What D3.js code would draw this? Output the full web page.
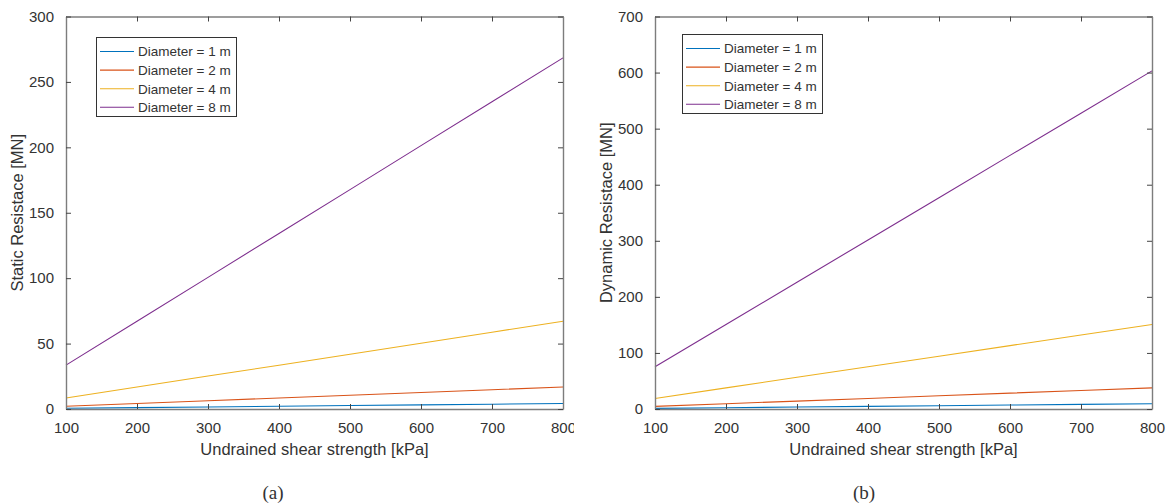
<!DOCTYPE html>
<html>
<head>
<meta charset="utf-8">
<script src="https://cdn.jsdelivr.net/npm/d3@7"></script>
<style>
  html, body { margin: 0; padding: 0; background: #fff; }
  svg { display: block; }
  text { font-family: "Liberation Sans", Arial, sans-serif; fill: #333; }
</style>
</head>
<body>
<svg id="chart" width="1173" height="503"></svg>
<script>
// Undrained shear strength [kPa]
const shearStrength = [100, 200, 300, 400, 500, 600, 700, 800];
const diameters = ["Diameter = 1 m", "Diameter = 2 m", "Diameter = 4 m", "Diameter = 8 m"];
const seriesColors = ["#0072BD", "#D95319", "#EDB120", "#7E2F8E"];

// Static resistance [MN] per pile diameter
const static1m = [0.52, 1.05, 1.57, 2.10, 2.62, 3.15, 3.67, 4.19];
const static2m = [2.10, 4.19, 6.29, 8.39, 10.5, 12.6, 14.7, 16.8];
const static4m = [8.39, 16.8, 25.2, 33.5, 41.9, 50.3, 58.7, 67.1];
const static8m = [33.55, 67.1, 100.6, 134.2, 167.7, 201.3, 234.8, 268.4];

// Dynamic resistance [MN] per pile diameter
const dynamic1m = [1.18, 2.36, 3.53, 4.71, 5.89, 7.07, 8.24, 9.42];
const dynamic2m = [4.71, 9.42, 14.1, 18.8, 23.6, 28.3, 33.0, 37.7];
const dynamic4m = [18.8, 37.7, 56.5, 75.4, 94.2, 113.1, 131.9, 150.8];
const dynamic8m = [75.4, 150.8, 226.1, 301.5, 376.9, 452.3, 527.6, 603.0];

const xTicks = [100, 200, 300, 400, 500, 600, 700, 800];
const staticTicks = [0, 50, 100, 150, 200, 250, 300];
const dynamicTicks = [0, 100, 200, 300, 400, 500, 600, 700];

const svg = d3.select("#chart");

function drawPanel(opt) {
  const g = svg.append("g");
  if (opt.clip) {
    const id = "clip-" + opt.caption.replace(/\W/g, "");
    svg.append("clipPath").attr("id", id)
      .append("rect").attr("x", 0).attr("y", 0).attr("width", opt.clip).attr("height", 503);
    g.attr("clip-path", `url(#${id})`);
  }
  const x = d3.scaleLinear().domain([100, 800]).range([opt.left, opt.right]);
  const y = d3.scaleLinear().domain([0, opt.yMax]).range([opt.bottom, opt.top]);

  // data lines
  const line = d3.line().x((d, i) => x(shearStrength[i])).y(d => y(d));
  opt.series.forEach((s, i) => {
    g.append("path").datum(s)
      .attr("fill", "none").attr("stroke", seriesColors[i])
      .attr("stroke-width", 1.1).attr("d", line);
  });

  // axes with inward ticks on all four sides
  const tickLen = 5;
  const axisColor = "#7d7d7d";
  const styleAxis = sel => {
    sel.select(".domain").attr("stroke", axisColor).attr("stroke-width", 1.4);
    sel.selectAll(".tick line").attr("stroke", "#444").attr("stroke-width", 1);
  };
  const bottomAx = g.append("g").attr("transform", `translate(0,${opt.bottom})`)
    .call(d3.axisBottom(x).tickValues(xTicks).tickSizeInner(-tickLen).tickSizeOuter(0).tickPadding(13))
    .call(styleAxis);
  bottomAx.selectAll(".tick text").attr("font-size", 15).attr("fill", "#333")
    .attr("font-family", "Liberation Sans, Arial, sans-serif");
  const topAx = g.append("g").attr("transform", `translate(0,${opt.top})`)
    .call(d3.axisTop(x).tickValues(xTicks).tickSizeInner(-tickLen).tickSizeOuter(0).tickFormat(""))
    .call(styleAxis);
  const leftAx = g.append("g").attr("transform", `translate(${opt.left},0)`)
    .call(d3.axisLeft(y).tickValues(opt.yTicks).tickSizeInner(-tickLen).tickSizeOuter(0).tickPadding(12))
    .call(styleAxis);
  leftAx.selectAll(".tick text").attr("font-size", 15).attr("fill", "#333")
    .attr("font-family", "Liberation Sans, Arial, sans-serif");
  g.append("g").attr("transform", `translate(${opt.right},0)`)
    .call(d3.axisRight(y).tickValues(opt.yTicks).tickSizeInner(-tickLen).tickSizeOuter(0).tickFormat(""))
    .call(styleAxis);

  // axis titles
  g.append("text").attr("x", (opt.left + opt.right) / 2).attr("y", 455)
    .attr("text-anchor", "middle").attr("font-size", 16.5).text("Undrained shear strength [kPa]");
  g.append("text")
    .attr("transform", `translate(${opt.yLabelX},${(opt.top + opt.bottom) / 2}) rotate(-90)`)
    .attr("text-anchor", "middle").attr("font-size", 16.5).text(opt.yLabel);

  // legend
  const lg = g.append("g").attr("transform", `translate(${opt.legendX},${opt.legendY})`);
  lg.append("rect").attr("x", 0.5).attr("y", 0.5).attr("width", 140).attr("height", 79)
    .attr("fill", "#fff").attr("stroke", "#333").attr("stroke-width", 1);
  diameters.forEach((name, i) => {
    const cy = 14.5 + i * 18.6;
    lg.append("line").attr("x1", 4).attr("x2", 38).attr("y1", cy).attr("y2", cy)
      .attr("stroke", seriesColors[i]).attr("stroke-width", 1.1);
    lg.append("text").attr("x", 42).attr("y", cy).attr("dy", "0.36em")
      .attr("font-size", 13.5).attr("fill", "#222").text(name);
  });

  // panel caption
  svg.append("text").attr("x", opt.captionX).attr("y", 499)
    .attr("text-anchor", "middle").attr("font-size", 19)
    .style("font-family", "'Liberation Serif', 'DejaVu Serif', serif").attr("fill", "#222")
    .text(opt.caption);
}

drawPanel({
  left: 66, right: 563, top: 16.5, bottom: 409, yMax: 300, yTicks: staticTicks,
  series: [static1m, static2m, static4m, static8m],
  yLabel: "Static Resistace [MN]", yLabelX: 23,
  legendX: 96, legendY: 37, caption: "(a)", captionX: 273, clip: 574
});

drawPanel({
  left: 655, right: 1152, top: 16.5, bottom: 409, yMax: 700, yTicks: dynamicTicks,
  series: [dynamic1m, dynamic2m, dynamic4m, dynamic8m],
  yLabel: "Dynamic Resistace [MN]", yLabelX: 612,
  legendX: 682, legendY: 34, caption: "(b)", captionX: 864
});
</script>
</body>
</html>
